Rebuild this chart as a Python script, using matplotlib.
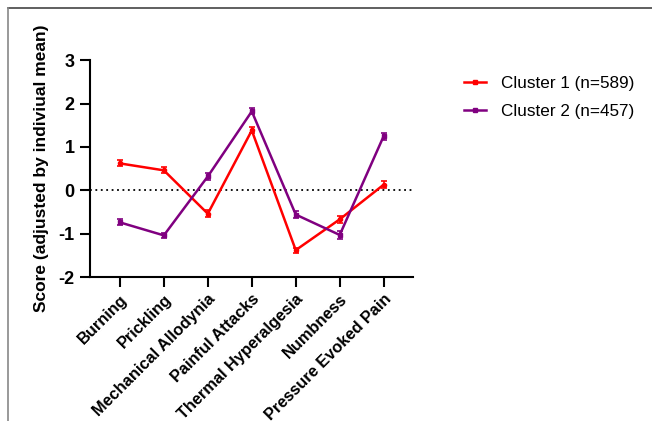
import matplotlib.pyplot as plt
from matplotlib.lines import Line2D

plt.rcParams['font.family'] = ['Liberation Sans', 'DejaVu Sans']
plt.rcParams['axes.unicode_minus'] = False

categories = ["Burning", "Prickling", "Mechanical Allodynia", "Painful Attacks",
              "Thermal Hyperalgesia", "Numbness", "Pressure Evoked Pain"]
cluster1 = [0.62, 0.46, -0.54, 1.38, -1.38, -0.67, 0.13]
cluster1_err = [0.07, 0.07, 0.08, 0.07, 0.06, 0.08, 0.08]
cluster2 = [-0.74, -1.04, 0.32, 1.82, -0.56, -1.03, 1.25]
cluster2_err = [0.07, 0.06, 0.08, 0.07, 0.08, 0.09, 0.08]
labels = ["Cluster 1 (n=589)", "Cluster 2 (n=457)"]
colors = ["#ff0000", "#800080"]

fig = plt.figure(figsize=(6.52, 4.21), dpi=100)
ax = fig.add_axes([0.138, 0.342, 0.495, 0.515])

x = list(range(len(categories)))
ax.errorbar(x, cluster1, yerr=cluster1_err, color=colors[0], lw=1.8, marker="o", ms=3,
            capsize=2.5, elinewidth=1.2, capthick=1.2, zorder=3)
ax.errorbar(x, cluster2, yerr=cluster2_err, color=colors[1], lw=1.8, marker="s", ms=3,
            capsize=2.5, elinewidth=1.2, capthick=1.2, zorder=3)
ax.axhline(0, color="black", lw=1.3, ls=(0, (1, 2)), zorder=1)

ax.set_xlim(-0.68, 6.66)
ax.set_ylim(-2, 3)
ax.set_yticks([-2, -1, 0, 1, 2, 3])
ax.set_xticks(x)
ax.set_xticklabels(categories, rotation=45, ha="right", rotation_mode="anchor",
                   fontsize=11.8, fontweight="bold")
for t in ax.get_yticklabels():
    t.set_fontsize(13)
    t.set_fontweight("bold")
ax.set_ylabel("Score (adjusted by indiviual mean)", fontsize=12.5, fontweight="bold", labelpad=7)

for s in ["top", "right"]:
    ax.spines[s].set_visible(False)
for s in ["left", "bottom"]:
    ax.spines[s].set_linewidth(1.5)
ax.tick_params(axis="both", width=1.5, length=7, direction="out")
ax.tick_params(axis="y", pad=4)

handles = [Line2D([], [], color=c, lw=1.8, marker="s", ms=3) for c in colors]
ax.legend(handles, labels, loc="upper left", bbox_to_anchor=(1.11, 1.0), frameon=False,
          fontsize=12.3, handlelength=1.3, handletextpad=0.9, labelspacing=0.8)

# outer frame
fig.add_artist(Line2D([8 / 652, 1], [1 - 8 / 421, 1 - 8 / 421], color="#444444", lw=1.2))
fig.add_artist(Line2D([8 / 652, 8 / 652], [0, 1 - 8 / 421], color="#888888", lw=1.2))

fig.savefig("out.png", dpi=100)
